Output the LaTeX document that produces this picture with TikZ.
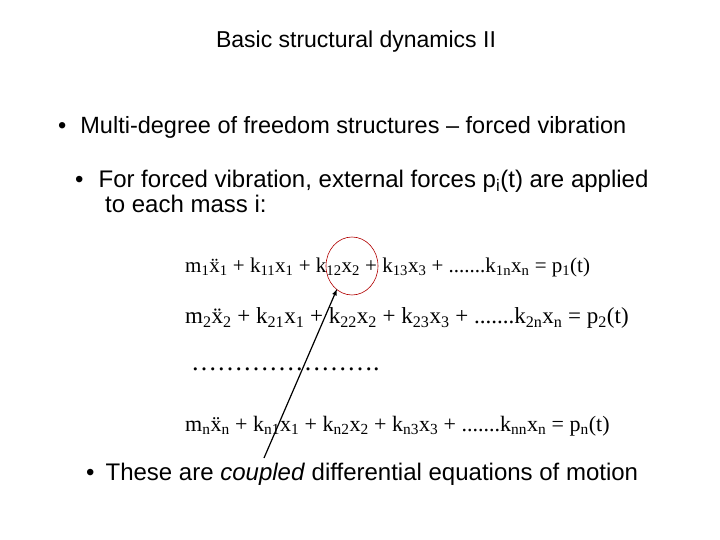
\documentclass[tikz,border=0pt]{standalone}
\usepackage{fontspec}
\setmainfont{Liberation Sans}
\newfontfamily\eqf{Liberation Serif}
\newcommand{\sbs}[1]{\textsubscript{#1}}
\begin{document}
\begin{tikzpicture}[x=1pt,y=-1pt,
  txt/.style={anchor=west,inner sep=0pt,font=\fontsize{24}{25}\selectfont},
  eq/.style={anchor=west,inner sep=0pt}]
\useasboundingbox[fill=white] (0,0) rectangle (720,540);
\node[inner sep=0pt,font=\fontsize{23}{27}\selectfont] (title) at (356,42) {Basic structural dynamics II};
\node[txt,font=\fontsize{23.5}{25}\selectfont] (b1) at (58,127) {\textbullet\hspace{14pt}Multi-degree of freedom structures -- forced vibration};
\node[txt,align=left,anchor=north west] (b2) at (75,170) {\textbullet\hspace{15pt}For forced vibration, external forces p\sbs{i}(t) are applied\\\hspace{30pt}to each mass i:};
\node[eq,font=\eqf\fontsize{21}{24}\selectfont] (e1) at (185,267) {m\sbs{1}\"x\sbs{1} + k\sbs{11}x\sbs{1} + k\sbs{12}x\sbs{2} + k\sbs{13}x\sbs{3} + .......k\sbs{1n}x\sbs{n} = p\sbs{1}(t)};
\node[eq,font=\eqf\fontsize{23}{26}\selectfont] (e2) at (185,318) {m\sbs{2}\"x\sbs{2} + k\sbs{21}x\sbs{1} + k\sbs{22}x\sbs{2} + k\sbs{23}x\sbs{3} + .......k\sbs{2n}x\sbs{n} = p\sbs{2}(t)};
\node[eq,font=\eqf\fontsize{26}{28}\selectfont] (dots) at (191,369) {\dots\dots\dots\dots\dots\dots\dots.};
\node[eq,font=\eqf\fontsize{22}{25}\selectfont] (e3) at (185,426) {m\sbs{n}\"x\sbs{n} + k\sbs{n1}x\sbs{1} + k\sbs{n2}x\sbs{2} + k\sbs{n3}x\sbs{3} + .......k\sbs{nn}x\sbs{n} = p\sbs{n}(t)};
\node[txt] (b3) at (86,474) {\textbullet\hspace{11pt}These are \textit{coupled} differential equations of motion};
\draw[red!70!black,line width=0.6pt] (352,266) ellipse [x radius=26, y radius=29] coordinate (circ);
\coordinate (tail) at (264,458);
\coordinate (head) at (337,289);
\draw[-latex,line width=1.2pt] (tail) -- (head);
\end{tikzpicture}
\end{document}
